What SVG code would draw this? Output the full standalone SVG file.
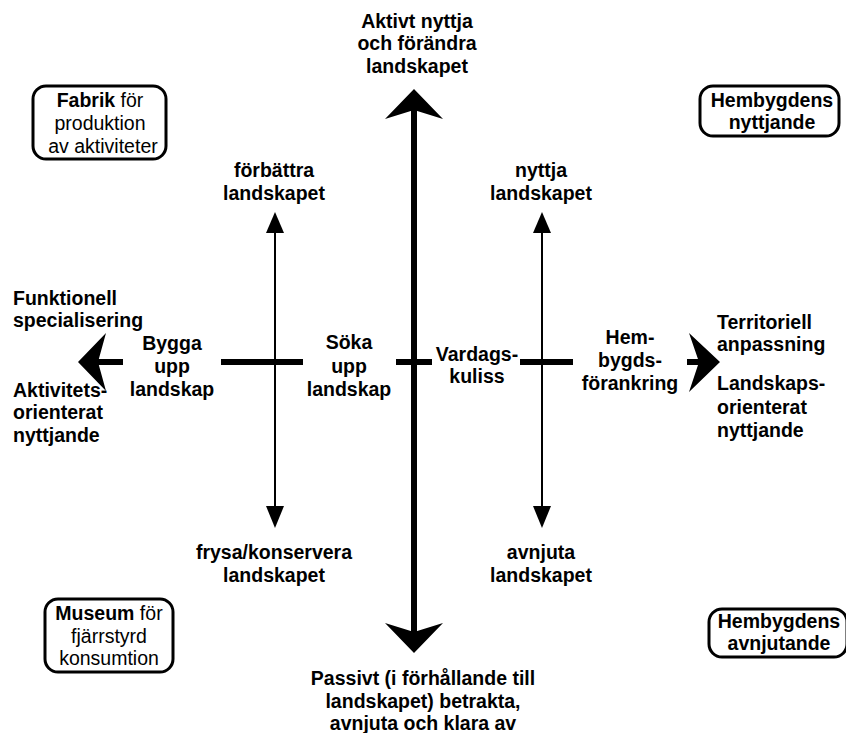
<svg xmlns="http://www.w3.org/2000/svg" width="846" height="733" viewBox="0 0 846 733">
<style>
text{font-family:"Liberation Sans",Arial,sans-serif;font-size:19.5px;fill:#000}
.b{font-weight:bold}
.c{text-anchor:middle}
.box{fill:#fff;stroke:#000;stroke-width:3}
.thick{stroke:#000;stroke-width:6;fill:none}
.thin{stroke:#000;stroke-width:2;fill:none}
.head{fill:#000;stroke:none}
</style>
<rect width="846" height="733" fill="#fff"/>
<g id="connectors">
  <line class="thick" x1="414" y1="108" x2="414" y2="634"/>
  <path class="head" d="M414,89 L443,119 L414,110 L385,119 Z"/>
  <path class="head" d="M414,653 L443,623 L414,632 L385,623 Z"/>
  <line class="thick" x1="97" y1="362" x2="123" y2="362"/>
  <line class="thick" x1="221" y1="362" x2="303" y2="362"/>
  <line class="thick" x1="396" y1="362" x2="432" y2="362"/>
  <line class="thick" x1="520" y1="362" x2="573" y2="362"/>
  <line class="thick" x1="687" y1="362" x2="701" y2="362"/>
  <path class="head" d="M78,362 L106,333 L98,362 L106,391 Z"/>
  <path class="head" d="M720,362 L689,333 L699,362 L689,392 Z"/>
  <line class="thin" x1="275" y1="230" x2="275" y2="510"/>
  <path class="head" d="M275,212 L284,233 L266,233 Z"/>
  <path class="head" d="M275,528 L284,506 L266,506 Z"/>
  <line class="thin" x1="542" y1="230" x2="542" y2="510"/>
  <path class="head" d="M542,212 L551,233 L533,233 Z"/>
  <path class="head" d="M542,528 L551,506 L533,506 Z"/>
</g>
<g id="top-label">
  <text class="b c" x="417" y="28">Aktivt nyttja</text>
  <text class="b c" x="417" y="50">och förändra</text>
  <text class="b c" x="417" y="73">landskapet</text>
</g>
<g id="bottom-label">
  <text class="b c" x="423" y="685">Passivt (i förhållande till</text>
  <text class="b c" x="423" y="708">landskapet) betrakta,</text>
  <text class="b c" x="423" y="730">avnjuta och klara av</text>
</g>
<g id="fabrik">
  <rect class="box" x="33" y="86" width="133" height="73" rx="13"/>
  <text class="c" x="100" y="107"><tspan class="b">Fabrik</tspan> för</text>
  <text class="c" x="100" y="130">produktion</text>
  <text class="c" x="103" y="153">av aktiviteter</text>
</g>
<g id="hembygdens-nyttjande">
  <rect class="box" x="700" y="86" width="139" height="50" rx="13"/>
  <text class="b c" x="772" y="107">Hembygdens</text>
  <text class="b c" x="772" y="129">nyttjande</text>
</g>
<g id="museum">
  <rect class="box" x="45" y="599" width="128" height="73" rx="13"/>
  <text class="c" x="109" y="620"><tspan class="b">Museum</tspan> för</text>
  <text class="c" x="109" y="643">fjärrstyrd</text>
  <text class="c" x="109" y="665">konsumtion</text>
</g>
<g id="hembygdens-avnjutande">
  <rect class="box" x="709" y="609" width="138" height="48" rx="13"/>
  <text class="b c" x="779" y="628">Hembygdens</text>
  <text class="b c" x="779" y="650">avnjutande</text>
</g>
<g id="forbattra">
  <text class="b c" x="274" y="177">förbättra</text>
  <text class="b c" x="274" y="200">landskapet</text>
</g>
<g id="nyttja">
  <text class="b c" x="541" y="177">nyttja</text>
  <text class="b c" x="541" y="200">landskapet</text>
</g>
<g id="frysa">
  <text class="b c" x="274" y="559">frysa/konservera</text>
  <text class="b c" x="274" y="582">landskapet</text>
</g>
<g id="avnjuta">
  <text class="b c" x="541" y="559">avnjuta</text>
  <text class="b c" x="541" y="582">landskapet</text>
</g>
<g id="funktionell">
  <text class="b" x="13" y="305">Funktionell</text>
  <text class="b" x="13" y="327">specialisering</text>
</g>
<g id="aktivitets">
  <text class="b" x="13" y="397">Aktivitets-</text>
  <text class="b" x="13" y="419">orienterat</text>
  <text class="b" x="13" y="442">nyttjande</text>
</g>
<g id="bygga">
  <text class="b c" x="172" y="350">Bygga</text>
  <text class="b c" x="172" y="373">upp</text>
  <text class="b c" x="172" y="396">landskap</text>
</g>
<g id="soka">
  <text class="b c" x="349" y="349">Söka</text>
  <text class="b c" x="349" y="373">upp</text>
  <text class="b c" x="349" y="396">landskap</text>
</g>
<g id="vardags">
  <text class="b c" x="477" y="361">Vardags-</text>
  <text class="b c" x="477" y="383">kuliss</text>
</g>
<g id="hembygds">
  <text class="b c" x="630" y="344">Hem-</text>
  <text class="b c" x="630" y="367">bygds-</text>
  <text class="b c" x="630" y="390">förankring</text>
</g>
<g id="territoriell">
  <text class="b" x="717" y="329">Territoriell</text>
  <text class="b" x="717" y="351">anpassning</text>
</g>
<g id="landskaps">
  <text class="b" x="717" y="390">Landskaps-</text>
  <text class="b" x="717" y="414">orienterat</text>
  <text class="b" x="717" y="437">nyttjande</text>
</g>
</svg>
